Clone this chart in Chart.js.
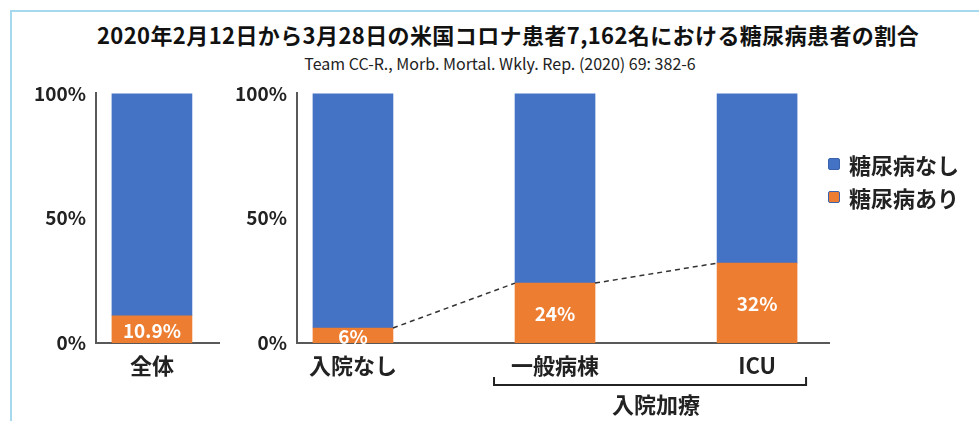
<!DOCTYPE html>
<html>
<head>
<meta charset="utf-8">
<script src="https://cdn.jsdelivr.net/npm/chart.js@4"></script>
<style>
  body { margin: 0; background: #fff; font-family: 'Noto Sans CJK JP', sans-serif; }
  #page { position: relative; width: 979px; height: 421px; overflow: hidden; }
  #frame { position: absolute; left: 10px; top: 10px; width: 1000px; height: 500px; border: 2px solid #a6d9ee; }
  #title { position: absolute; left: 0; width: 1016px; top: 20px; text-align: center; font-size: 22px; font-weight: bold; line-height: 28px; color: #111; letter-spacing: 0.4px; }
  #subtitle { position: absolute; left: 0; width: 1000px; top: 53px; text-align: center; font-size: 16px; line-height: 20px; color: #222; }
  .box { position: absolute; top: 72px; height: 349px; }
  #legend { position: absolute; left: 828px; top: 147px; }
  #legend div { display: flex; align-items: center; height: 33px; font-size: 22px; font-weight: bold; color: #222; }
  #legend span.sw { display: inline-block; width: 10px; height: 10px; border: 1.5px solid #3a62ad; border-radius: 2px; margin-right: 9px; }
</style>
</head>
<body>
<div id="page">
  <div id="frame"></div>
  <div id="title">2020年2月12日から3月28日の米国コロナ患者7,162名における糖尿病患者の割合</div>
  <div id="subtitle">Team CC-R., Morb. Mortal. Wkly. Rep. (2020) 69: 382-6</div>
  <div class="box" style="left:0; width:235px;"><canvas id="leftChart"></canvas></div>
  <div class="box" style="left:235px; width:744px;"><canvas id="rightChart"></canvas></div>
  <div id="legend"></div>
</div>
<script>
// data
const seriesNames = ['糖尿病あり', '糖尿病なし'];
const allCategories = ['全体'];
const allDiabetes = [10.9];
const allNoDiabetes = [89.1];
const careCategories = ['入院なし', '一般病棟', 'ICU'];
const careDiabetes = [6, 24, 32];
const careNoDiabetes = [94, 76, 68];
const groupLabel = '入院加療';
const groupRange = [1, 2]; // which care categories sit under the bracket
const yTicks = [0, 50, 100];

const BLUE = '#4472c4';
const ORANGE = '#ed7d31';
const AXIS = '#595959';

Chart.defaults.font.family = "'Noto Sans CJK JP', sans-serif";
Chart.defaults.animation = false;

// white % labels in the orange bars
const barLabels = {
    id: 'barLabels',
    afterDatasetsDraw(chart) {
        const ctx = chart.ctx;
        const meta = chart.getDatasetMeta(0);
        ctx.save();
        ctx.fillStyle = '#fff';
        ctx.font = "bold 19px 'Noto Sans CJK JP'";
        ctx.textAlign = 'center';
        ctx.textBaseline = 'middle';
        meta.data.forEach((bar, i) => {
            const v = chart.data.datasets[0].data[i].y;
            ctx.fillText(v + '%', bar.x, (bar.y + bar.base) / 2 + 1);
        });
        ctx.restore();
    }
};

// excel style series lines between the orange tops
const seriesLines = {
    id: 'seriesLines',
    afterDatasetsDraw(chart) {
        const bars = chart.getDatasetMeta(0).data;
        if (bars.length < 2) return;
        const ctx = chart.ctx;
        ctx.save();
        ctx.strokeStyle = '#333';
        ctx.lineWidth = 1.5;
        ctx.setLineDash([5, 4]);
        for (let i = 0; i < bars.length - 1; i++) {
            const a = bars[i], b = bars[i + 1];
            ctx.beginPath();
            ctx.moveTo(a.x + a.width / 2, a.y);
            ctx.lineTo(b.x - b.width / 2, b.y);
            ctx.stroke();
        }
        ctx.restore();
    }
};

// bracket under grouped categories
const bracket = {
    id: 'bracket',
    afterDraw(chart) {
        const bars = chart.getDatasetMeta(0).data;
        const a = bars[groupRange[0]], b = bars[groupRange[1]];
        const x1 = a.x - a.width / 2 - 21;
        const x2 = b.x + b.width / 2 + 9;
        const y = chart.chartArea.bottom + 42;
        const ctx = chart.ctx;
        ctx.save();
        ctx.strokeStyle = '#222';
        ctx.lineWidth = 2;
        ctx.beginPath();
        ctx.moveTo(x1, y - 8);
        ctx.lineTo(x1, y);
        ctx.lineTo(x2, y);
        ctx.lineTo(x2, y - 8);
        ctx.stroke();
        ctx.fillStyle = '#222';
        ctx.font = "bold 22px 'Noto Sans CJK JP'";
        ctx.textAlign = 'center';
        ctx.textBaseline = 'middle';
        ctx.fillText(groupLabel, (x1 + x2) / 2 + 6, y + 20);
        ctx.restore();
    }
};

function makeChart(id, categories, diabetes, noDiabetes, xMax, yAxisWidth, padRight, extraPlugins) {
    return new Chart(document.getElementById(id), {
        type: 'bar',
        data: {
            datasets: [
                { label: seriesNames[0], data: diabetes.map((v, i) => ({ x: i, y: v })), backgroundColor: ORANGE, barThickness: 80 },
                { label: seriesNames[1], data: noDiabetes.map((v, i) => ({ x: i, y: v })), backgroundColor: BLUE, barThickness: 80 }
            ]
        },
        options: {
            responsive: true,
            maintainAspectRatio: false,
            layout: { padding: { top: 0, right: padRight, left: 0, bottom: 0 } },
            plugins: { legend: { display: false }, tooltip: { enabled: false } },
            scales: {
                x: {
                    type: 'linear',
                    stacked: true,
                    min: -0.277,
                    max: xMax,
                    offset: false,
                    grid: { display: false, drawTicks: false },
                    border: { display: true, color: AXIS, width: 2 },
                    afterBuildTicks: s => { s.ticks = categories.map((c, i) => ({ value: i })); },
                    afterFit: s => { s.height = 78; },
                    ticks: {
                        autoSkip: false,
                        padding: 9,
                        color: '#222',
                        font: { size: 22, weight: 'bold' },
                        callback: v => categories[v]
                    }
                },
                y: {
                    stacked: true,
                    min: 0,
                    max: 100,
                    grid: { display: false, drawTicks: false },
                    border: { display: true, color: AXIS, width: 2 },
                    afterBuildTicks: s => { s.ticks = yTicks.map(v => ({ value: v })); },
                    afterFit: s => { s.width = yAxisWidth; },
                    ticks: {
                        padding: 10,
                        color: '#222',
                        font: { size: 19, weight: 'bold' },
                        callback: v => v + '%'
                    }
                }
            }
        },
        plugins: [barLabels, seriesLines].concat(extraPlugins)
    });
}

makeChart('leftChart', allCategories, allDiabetes, allNoDiabetes, 0.332, 96, 16, []);
const care = makeChart('rightChart', careCategories, careDiabetes, careNoDiabetes, 2.356, 62, 150, [bracket]);

// html legend, top series first
const legendEl = document.getElementById('legend');
care.data.datasets.slice().reverse().forEach(ds => {
    const row = document.createElement('div');
    row.innerHTML = '<span class="sw" style="background:' + ds.backgroundColor + '"></span>' + ds.label;
    legendEl.appendChild(row);
});
</script>
</body>
</html>
